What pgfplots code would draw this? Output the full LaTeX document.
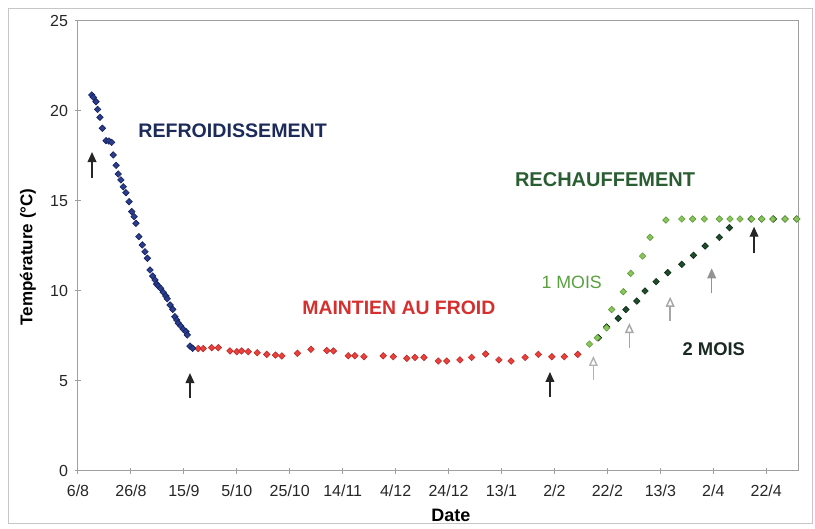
\documentclass[border=0pt]{standalone}
\usepackage{fontspec}
\setmainfont{Liberation Sans}
\usepackage{pgfplots}
\pgfplotsset{compat=1.18}
\usetikzlibrary{arrows.meta}
\definecolor{blueF}{HTML}{2A3D8F}
\definecolor{blueD}{HTML}{16215A}
\definecolor{redF}{HTML}{E8433A}
\definecolor{redD}{HTML}{C0282A}
\definecolor{lgF}{HTML}{8CC45A}
\definecolor{lgD}{HTML}{5A9A3A}
\definecolor{dgF}{HTML}{1F4D2C}
\definecolor{dgD}{HTML}{0F2A18}
\definecolor{tNavy}{HTML}{1C2B5A}
\definecolor{tRed}{HTML}{D62F2F}
\definecolor{tGreen}{HTML}{2A5E32}
\definecolor{tLight}{HTML}{5AA040}
\definecolor{tDark}{HTML}{1A2A22}
\pgfplotsset{dmark/.style={only marks, mark=square*, mark size=1.15pt}}
\begin{document}
\begin{tikzpicture}
\useasboundingbox (0,0) rectangle (407.5pt,264.5pt);
\draw[gray!45, line width=0.4pt] (4pt,3pt) rectangle (406pt,260.5pt);
\begin{axis}[
  at={(39pt,29pt)}, anchor=south west,
  scale only axis, width=360pt, height=225pt,
  xmin=0, xmax=272, ymin=0, ymax=25,
  xtick={0,20,...,260},
  xticklabels={6/8,26/8,15/9,5/10,25/10,14/11,4/12,24/12,13/1,2/2,22/2,13/3,2/4,22/4},
  ytick={0,5,...,25},
  xtick pos=bottom, ytick pos=left,
  tick align=center, major tick length=3pt,
  axis line style={gray!75, line width=0.5pt},
  tick style={gray!75, line width=0.5pt},
  ticklabel style={font=\fontsize{8}{9}\selectfont, text=black!85},
  xticklabel style={yshift=-2pt},
  /pgf/number format/assume math mode=true,
  clip=false,
]
% maintien au froid
\addplot[dmark, mark options={rotate=45, line width=0.3pt, fill=redF, draw=redD}] coordinates {
(45.4,6.8)(47.3,6.8)(50.5,6.85)(53.0,6.85)(57.4,6.67)(60.0,6.63)(61.8,6.67)(64.3,6.63)(67.7,6.57)(71.3,6.48)(74.6,6.44)(77.0,6.39)(82.9,6.54)(88.0,6.76)(94.0,6.69)(96.5,6.67)(102.1,6.4)(104.6,6.4)(108.0,6.35)(115.3,6.4)(119.1,6.35)(124.2,6.26)(127.3,6.31)(130.7,6.31)(136.1,6.11)(139.3,6.11)(144.3,6.17)(148.7,6.31)(154.0,6.5)(159.0,6.17)(163.6,6.11)(168.9,6.31)(173.9,6.48)(179.0,6.35)(183.7,6.35)(188.8,6.48)
};
% refroidissement
\addplot[dmark, mark options={rotate=45, line width=0.3pt, fill=blueF, draw=blueD}] coordinates {
(5.2,20.89)(5.8,20.76)(6.8,20.52)(7.4,20.09)(8.3,19.65)(9.2,19.04)(10.6,18.35)(11.7,18.33)(12.7,18.26)(13.3,17.56)(14.4,16.98)(15.2,16.5)(16.2,16.17)(17.1,15.79)(18.1,15.46)(19.3,14.96)(20.3,14.41)(21.2,14.13)(21.9,13.76)(23.0,13.02)(24.3,12.56)(25.3,12.18)(26.2,11.82)(27.2,11.17)(28.2,10.83)(29.1,10.61)(29.7,10.39)(30.3,10.28)(31.2,10.15)(32.2,9.93)(33.2,9.72)(33.7,9.57)(34.8,9.22)(35.8,8.98)(36.6,8.57)(37.3,8.39)(37.9,8.21)(38.8,8.06)(39.8,7.87)(40.8,7.74)(41.3,7.56)(42.3,6.94)(43.3,6.82)
};
% 2 mois
\addplot[dmark, mark options={rotate=45, line width=0.3pt, fill=dgF, draw=dgD}] coordinates {
(196.6,7.4)(199.7,8.0)(204.1,8.48)(207.0,8.97)(211.1,9.44)(214.2,10.0)(218.4,10.52)(222.8,11.02)(228.1,11.48)(232.5,11.98)(236.9,12.5)(242.3,12.98)(246.1,13.52)(254.3,14.0)(258.3,14.0)(262.7,14.0)(267.1,14.0)(271.5,14.0)
};
% 1 mois
\addplot[dmark, mark options={rotate=45, line width=0.3pt, fill=lgF, draw=lgD}] coordinates {
(193.2,7.05)(196.2,7.4)(199.7,7.95)(201.6,8.97)(206.0,9.96)(208.8,10.98)(213.3,11.94)(216.1,12.98)(222.1,13.94)(228.1,14.0)(232.2,14.0)(236.6,14.0)(242.3,14.0)(246.3,14.0)(250.1,14.0)(254.5,14.0)(258.3,14.0)(262.5,14.0)(267.1,14.0)(271.5,14.0)
};
% arrows
\draw[black!85, line width=0.7pt, -{Triangle[width=4.4pt,length=5pt]}] (axis cs:5.3,16.28) -- (axis cs:5.3,17.72);
\draw[black!85, line width=0.7pt, -{Triangle[width=4.4pt,length=5pt]}] (axis cs:42.3,4.06) -- (axis cs:42.3,5.44);
\draw[black!85, line width=0.7pt, -{Triangle[width=4.4pt,length=5pt]}] (axis cs:178.3,4.11) -- (axis cs:178.3,5.5);
\draw[gray!60, line width=0.7pt, -{Triangle[open,width=4.4pt,length=5pt]}] (axis cs:194.7,5.06) -- (axis cs:194.7,6.39);
\draw[gray!70, line width=0.7pt, -{Triangle[open,width=4.4pt,length=5pt]}] (axis cs:208.3,6.83) -- (axis cs:208.3,8.22);
\draw[gray!70, line width=0.7pt, -{Triangle[open,width=4.4pt,length=5pt]}] (axis cs:223.7,8.35) -- (axis cs:223.7,9.68);
\draw[gray!85, line width=0.7pt, -{Triangle[width=4.4pt,length=5pt]}] (axis cs:239.4,9.87) -- (axis cs:239.4,11.26);
\draw[black!85, line width=0.7pt, -{Triangle[width=4.4pt,length=5pt]}] (axis cs:255.4,12.09) -- (axis cs:255.4,13.57);
% labels
\node[text=tNavy, font=\bfseries\fontsize{9.8}{11}\selectfont] at (axis cs:58.4,18.92) {REFROIDISSEMENT};
\node[text=tRed, font=\bfseries\fontsize{9.7}{11}\selectfont] at (axis cs:121.2,9.04) {MAINTIEN AU FROID};
\node[text=tGreen, font=\bfseries\fontsize{10}{11}\selectfont] at (axis cs:199.1,16.17) {RECHAUFFEMENT};
\node[text=tLight, font=\fontsize{8.9}{10}\selectfont] at (axis cs:186.5,10.46) {1 MOIS};
\node[text=tDark, font=\bfseries\fontsize{9.2}{10}\selectfont] at (axis cs:240.2,6.76) {2 MOIS};
\end{axis}
\node[font=\bfseries\fontsize{9}{10}\selectfont] at (225.5pt,7pt) {Date};
\node[font=\bfseries\fontsize{8.5}{10}\selectfont, rotate=90] at (14pt,136pt) {Température (°C)};
\end{tikzpicture}
\end{document}
